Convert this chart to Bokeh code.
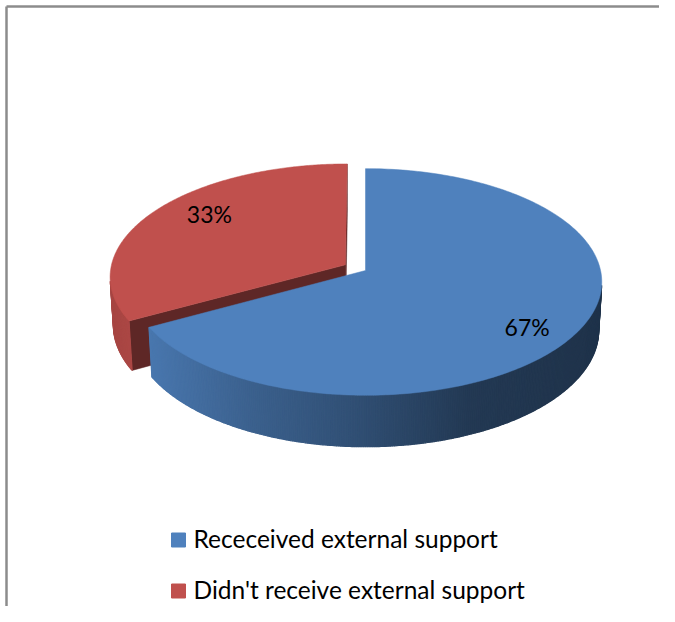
import numpy as np
from bokeh.plotting import figure
from bokeh.models import Range1d
from bokeh.core.properties import value
from bokeh.embed import file_html
from bokeh.resources import INLINE

# ---- data ----
categories = ["Receceived  external support", "Didn't receive external support"]
shares = [67, 33]
pct_labels = ["67%", "33%"]
top_colors = ["#4f81bd", "#c0504d"]

# ---- layout / style constants ----
W, H = 659, 606
CX, CY = 365.0, 270.0          # pixel position of the pie centre
F = 2045.0                     # focal length (px)
L = 8.7                        # camera distance (radius units)
PHI = np.radians(28.5)         # elevation
DEPTH = 0.235                  # pie thickness (radius units)
EXPLODE = [0.0, 0.1]
SP, CP = np.sin(PHI), np.cos(PHI)
CAM = np.array([0.0, L * SP, L * CP])
FONT = "Lato"
LBL_SHIFT = [5.5, 7.5]         # label angle offset from slice bisector (deg)
LBL_R = [0.81, 0.78]           # label radius (fraction of pie radius)


def proj(X, Y, Z):
    zc = L - Y * SP - Z * CP
    u = F * X / zc
    v = F * (Y * CP - Z * SP) / zc
    return CX + u, CY - v


def hex2rgb(h):
    h = h.lstrip("#")
    return np.array([int(h[i:i + 2], 16) for i in (0, 2, 4)], float)


def rgb2hex(c):
    c = np.clip(np.round(c), 0, 255).astype(int)
    return "#%02x%02x%02x" % tuple(c)


shade_x = [105, 150, 250, 350, 470, 610]
shade_f = [0.86, 0.92, 0.75, 0.62, 0.44, 0.39]

p = figure(width=W, height=H, output_backend="svg", toolbar_location=None,
           x_range=Range1d(0, W), y_range=Range1d(H, 0),
           min_border=0, outline_line_color=None)
p.axis.visible = False
p.grid.visible = False
p.background_fill_color = "white"
p.border_fill_color = "white"

# slice angles (degrees, clockwise from 12 o'clock)
total = float(sum(shares))
bounds = np.concatenate([[0.0], np.cumsum(shares) / total * 360.0])

slices = []
for i in range(len(shares)):
    a0, a1 = bounds[i], bounds[i + 1]
    mid = np.radians((a0 + a1) / 2)
    ox, oz = EXPLODE[i] * np.sin(mid), -EXPLODE[i] * np.cos(mid)
    slices.append((a0, a1, ox, oz))

# draw back (red) slice first, then the front (blue) one
for i in [1, 0]:
    a0, a1, ox, oz = slices[i]
    col = hex2rgb(top_colors[i])
    dark = rgb2hex(col * 0.49)
    # radial faces
    for ang, sign in [(a0, -1), (a1, 1)]:
        t = np.radians(ang)
        n = sign * np.array([np.cos(t), 0.0, np.sin(t)])
        rim = np.array([ox + np.sin(t), 0.0, oz - np.cos(t)])
        mid_pt = (rim + np.array([ox, 0.0, oz])) / 2
        if np.dot(CAM - mid_pt, n) > 1e-6:
            pts = [(ox, 0, oz), (rim[0], 0, rim[2]), (rim[0], -DEPTH, rim[2]), (ox, -DEPTH, oz)]
            xs, ys = zip(*[proj(*q) for q in pts])
            p.patch(list(xs), list(ys), fill_color=dark, line_color=dark, line_width=0.5)
    # outer side strips
    ts = np.radians(np.arange(a0, a1 + 1e-9, 0.5))
    if ts[-1] < np.radians(a1):
        ts = np.append(ts, np.radians(a1))
    for k in range(len(ts) - 1):
        tm = (ts[k] + ts[k + 1]) / 2
        n = np.array([np.sin(tm), 0.0, -np.cos(tm)])
        P = np.array([ox + np.sin(tm), 0.0, oz - np.cos(tm)])
        if np.dot(CAM - P, n) <= 0:
            continue
        q = [(ts[k], 0), (ts[k + 1], 0), (ts[k + 1], -DEPTH), (ts[k], -DEPTH)]
        xs, ys = zip(*[proj(ox + np.sin(t), y, oz - np.cos(t)) for t, y in q])
        fx = float(np.interp(np.mean(xs), shade_x, shade_f))
        c = rgb2hex(col * fx)
        p.patch(list(xs), list(ys), fill_color=c, line_color=c, line_width=1.2)
    # top face
    tt = np.radians(np.linspace(a0, a1, 240))
    xs, ys = proj(ox + np.sin(tt), 0.0 * tt, oz - np.cos(tt))
    ax, ay = proj(ox, 0.0, oz)
    p.patch([ax] + list(xs), [ay] + list(ys), fill_color=top_colors[i],
            line_color=top_colors[i], line_width=0.5)

# percentage labels
lx, ly = [], []
for i in range(len(shares)):
    a0, a1, ox, oz = slices[i]
    t = np.radians((a0 + a1) / 2 + LBL_SHIFT[i])
    x, y = proj(ox + LBL_R[i] * np.sin(t), 0.0, oz - LBL_R[i] * np.cos(t))
    lx.append(x)
    ly.append(y)
p.text(x=lx, y=ly, text=pct_labels, text_align="center", text_baseline="middle",
       text_font=value(FONT), text_font_size="23px", text_color="black")

# legend
LEG_X, LEG_Y0, LEG_DY = 178.0, 539.5, 51.0
leg_y = [LEG_Y0 + k * LEG_DY for k in range(len(categories))]
p.scatter(x=[LEG_X] * len(categories), y=leg_y, marker="square", size=14,
          fill_color=top_colors, line_color=top_colors)
p.text(x=[LEG_X + 15] * len(categories), y=[y - 1.5 for y in leg_y], text=categories,
       text_align="left", text_baseline="middle",
       text_font=value(FONT), text_font_size="24.5px", text_color="black")

# frame lines (left and top)
p.line(x=[6, 6], y=[6, H], line_color="#8c8c8c", line_width=2.5)
p.line(x=[6, W], y=[6, 6], line_color="#8c8c8c", line_width=2.5)

open("out.html", "w").write(file_html(p, INLINE))
